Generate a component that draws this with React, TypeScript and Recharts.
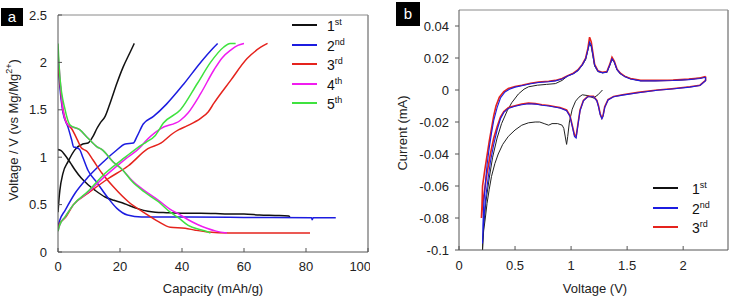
import React from 'react';
import { LineChart, Line, XAxis, YAxis, ReferenceLine } from 'recharts';

type P = [number, number];

// ---------- Panel a: galvanostatic curves (capacity mAh/g, voltage V) ----------
const dis1: P[] = [[0,1.08],[1,1.07],[2.3,1.02],[4,0.94],[5.5,0.865],[7.5,0.78],[9.7,0.71],[12,0.65],[15.2,0.58],[18,0.545],[20.7,0.52],[23,0.49],[26,0.455],[29,0.43],[31.4,0.42],[35,0.415],[40,0.41],[46,0.41],[50.8,0.405],[55,0.4],[60,0.4],[65,0.39],[70,0.385],[74.4,0.38],[74.8,0.37]];
const chg1: P[] = [[0,0.42],[0.3,0.55],[0.6,0.65],[1.6,0.83],[3.2,0.95],[5.5,1.08],[8,1.14],[9.7,1.15],[11.3,1.22],[12.5,1.3],[13.6,1.36],[15.2,1.43],[16.8,1.57],[19,1.78],[21,1.95],[23.3,2.11],[24.6,2.2]];
const dis2: P[] = [[0,2.0],[0.6,1.74],[1.6,1.47],[3.2,1.32],[4.5,1.17],[5,1.11],[6,1.1],[7,1.08],[8,1.0],[9.7,0.86],[12.6,0.73],[15.9,0.58],[19,0.46],[22.4,0.39],[27,0.37],[40,0.37],[60,0.365],[81.8,0.36],[82,0.34],[82.3,0.36],[89.6,0.36]];
const chg2: P[] = [[0,0.27],[0.5,0.33],[2.3,0.44],[5.5,0.62],[9.7,0.79],[14.6,0.95],[18.4,1.06],[21.7,1.14],[24.3,1.15],[25.5,1.22],[27.5,1.35],[30.8,1.43],[35,1.56],[40.5,1.77],[46,2.0],[50,2.15],[51.5,2.2]];
const dis3: P[] = [[0,1.95],[0.6,1.8],[1.2,1.6],[2.8,1.36],[4.4,1.3],[6.3,1.18],[7.5,1.1],[9.4,1.06],[11.3,0.97],[14.2,0.83],[17.8,0.69],[22.7,0.53],[28,0.41],[32.4,0.32],[36.2,0.26],[41,0.25],[44.3,0.23],[48.5,0.21],[55,0.2],[81.3,0.2]];
const chg3: P[] = [[0,0.25],[0.5,0.3],[2.3,0.36],[5,0.5],[9.7,0.62],[16,0.77],[22.7,0.91],[29,1.09],[33.3,1.15],[37,1.25],[39,1.29],[41.6,1.33],[46,1.41],[48.5,1.48],[50.3,1.57],[55.7,1.81],[61,2.04],[65.4,2.16],[67.6,2.2]];
const dis4: P[] = [[0,2.1],[0.6,1.85],[1.6,1.5],[3.2,1.34],[7,1.29],[9.7,1.2],[12.6,1.11],[14.2,1.08],[17.8,0.95],[20.7,0.87],[24,0.75],[28,0.645],[32.4,0.545],[36.2,0.45],[39,0.4],[42,0.34],[45,0.29],[48,0.25],[51,0.22],[54.5,0.2]];
const chg4: P[] = [[0,0.22],[0.5,0.28],[2.3,0.37],[5,0.5],[9.7,0.63],[15.2,0.8],[21.7,0.98],[27,1.12],[28,1.16],[33,1.3],[39.5,1.39],[42,1.47],[46,1.67],[50.3,1.92],[53,2.05],[55.7,2.13],[58,2.18],[60,2.2]];
const dis5: P[] = [[0,2.2],[0.6,1.85],[2.3,1.5],[3.9,1.34],[7,1.29],[9.7,1.2],[12.6,1.11],[14.2,1.08],[17.8,0.95],[20.7,0.87],[24,0.74],[28,0.63],[32.4,0.53],[36.2,0.42],[38.9,0.36],[42,0.28],[46.6,0.23],[48.5,0.21],[49.2,0.2]];
const chg5: P[] = [[0,0.22],[0.5,0.28],[2.3,0.37],[5,0.5],[9.7,0.64],[15.2,0.83],[21.7,1.0],[27,1.13],[28.5,1.16],[31.4,1.23],[34,1.36],[39.5,1.5],[45,1.78],[49.2,2.0],[53.4,2.16],[55.5,2.2],[57.3,2.2]];

const capTicks = [0, 20, 40, 60, 80, 100];
const voltTicks = [0, 0.5, 1, 1.5, 2, 2.5];

// ---------- Panel b: cyclic voltammograms (voltage V, current mA) ----------
const cv1: P[] = [[1.28,0.0],[1.24,-0.003],[1.2,-0.005],[1.15,-0.0035],[1.1,-0.003],[1.07,-0.0045],[1.04,-0.007],[1.01,-0.012],[0.985,-0.02],[0.97,-0.029],[0.96,-0.034],[0.95,-0.03],[0.935,-0.024],[0.92,-0.022],[0.88,-0.021],[0.83,-0.021],[0.8,-0.022],[0.76,-0.021],[0.72,-0.02],[0.68,-0.02],[0.62,-0.0205],[0.56,-0.022],[0.5,-0.025],[0.44,-0.029],[0.39,-0.034],[0.35,-0.04],[0.32,-0.046],[0.29,-0.054],[0.27,-0.062],[0.25,-0.071],[0.235,-0.08],[0.22,-0.088],[0.212,-0.095],[0.21,-0.1],[0.22,-0.085],[0.24,-0.07],[0.27,-0.055],[0.3,-0.042],[0.34,-0.03],[0.38,-0.021],[0.43,-0.013],[0.47,-0.008],[0.53,-0.0025],[0.58,0.0005],[0.62,0.002],[0.7,0.003],[0.78,0.0035],[0.86,0.004],[0.92,0.006],[0.97,0.0088],[1.02,0.0103],[1.06,0.012],[1.1,0.0155],[1.13,0.019],[1.15,0.025],[1.165,0.029],[1.18,0.027],[1.195,0.021],[1.21,0.015],[1.24,0.0115],[1.28,0.0108],[1.32,0.011],[1.345,0.0155],[1.365,0.019],[1.385,0.0175],[1.41,0.0125],[1.44,0.01],[1.53,0.007],[1.62,0.0058],[1.75,0.0058],[1.91,0.006],[2.05,0.0066],[2.2,0.008]];
const cv3: P[] = [[2.2,0.0085],[2.2,0.006],[2.15,0.003],[2.06,0.002],[1.9,0.0008],[1.77,0.0],[1.6,-0.0015],[1.46,-0.003],[1.38,-0.004],[1.33,-0.006],[1.3,-0.0105],[1.285,-0.016],[1.275,-0.0175],[1.26,-0.015],[1.245,-0.01],[1.23,-0.0065],[1.2,-0.004],[1.15,-0.004],[1.11,-0.0065],[1.08,-0.0125],[1.06,-0.022],[1.045,-0.029],[1.03,-0.028],[1.01,-0.022],[0.99,-0.016],[0.96,-0.0125],[0.9,-0.011],[0.86,-0.0105],[0.8,-0.0097],[0.74,-0.0092],[0.68,-0.0085],[0.62,-0.0082],[0.56,-0.0088],[0.5,-0.0098],[0.44,-0.011],[0.4,-0.0135],[0.37,-0.017],[0.34,-0.023],[0.31,-0.03],[0.28,-0.04],[0.25,-0.052],[0.23,-0.062],[0.21,-0.072],[0.2,-0.08],[0.205,-0.072],[0.21,-0.06],[0.23,-0.05],[0.25,-0.041],[0.27,-0.032],[0.29,-0.024],[0.31,-0.016],[0.33,-0.01],[0.36,-0.0045],[0.4,-0.001],[0.44,0.001],[0.5,0.0022],[0.56,0.003],[0.64,0.0042],[0.71,0.005],[0.8,0.0055],[0.86,0.006],[0.92,0.0072],[0.97,0.009],[1.02,0.0105],[1.06,0.0125],[1.1,0.016],[1.13,0.02],[1.15,0.026],[1.165,0.033],[1.18,0.03],[1.195,0.023],[1.21,0.016],[1.24,0.012],[1.28,0.011],[1.32,0.0115],[1.345,0.016],[1.365,0.0205],[1.385,0.018],[1.41,0.013],[1.44,0.0105],[1.48,0.0085],[1.53,0.0072],[1.62,0.006],[1.75,0.006],[1.91,0.0062],[2.05,0.0068],[2.15,0.0075],[2.2,0.0085]];
const cv2: P[] = [[2.2,0.008],[2.2,0.0058],[2.15,0.0028],[2.06,0.0018],[1.9,0.0006],[1.77,-0.0002],[1.6,-0.0017],[1.46,-0.0032],[1.38,-0.0042],[1.33,-0.0062],[1.3,-0.011],[1.285,-0.0165],[1.275,-0.018],[1.26,-0.0155],[1.245,-0.0105],[1.23,-0.0068],[1.2,-0.0042],[1.15,-0.0042],[1.11,-0.0068],[1.08,-0.013],[1.06,-0.0225],[1.045,-0.03],[1.03,-0.029],[1.01,-0.0225],[0.99,-0.0165],[0.96,-0.013],[0.9,-0.0113],[0.86,-0.0108],[0.8,-0.01],[0.74,-0.0095],[0.68,-0.0088],[0.62,-0.0086],[0.56,-0.0092],[0.5,-0.0102],[0.44,-0.0115],[0.4,-0.014],[0.37,-0.018],[0.34,-0.025],[0.31,-0.034],[0.28,-0.045],[0.26,-0.055],[0.24,-0.066],[0.225,-0.078],[0.215,-0.088],[0.21,-0.096],[0.213,-0.085],[0.22,-0.072],[0.235,-0.058],[0.25,-0.047],[0.27,-0.036],[0.29,-0.027],[0.31,-0.019],[0.34,-0.011],[0.37,-0.005],[0.41,-0.0012],[0.45,0.0005],[0.5,0.0018],[0.56,0.0027],[0.64,0.0039],[0.71,0.0047],[0.8,0.0052],[0.86,0.0057],[0.92,0.0069],[0.97,0.0087],[1.02,0.0102],[1.06,0.0122],[1.1,0.0157],[1.13,0.0195],[1.15,0.025],[1.165,0.03],[1.18,0.028],[1.195,0.022],[1.21,0.0155],[1.24,0.0117],[1.28,0.0107],[1.32,0.0112],[1.345,0.0155],[1.365,0.0195],[1.385,0.0175],[1.41,0.0127],[1.44,0.0102],[1.48,0.0082],[1.53,0.0069],[1.62,0.0057],[1.75,0.0057],[1.91,0.0059],[2.05,0.0065],[2.15,0.0072],[2.2,0.008]];

const cvVoltTicks = [0, 0.5, 1, 1.5, 2];
const currentTicks = [-0.1, -0.08, -0.06, -0.04, -0.02, 0, 0.02, 0.04];

const legendA = [
  { n: '1', s: 'st', c: '#111111' },
  { n: '2', s: 'nd', c: '#1c1ce0' },
  { n: '3', s: 'rd', c: '#e5231d' },
  { n: '4', s: 'th', c: '#f01cf0' },
  { n: '5', s: 'th', c: '#3fe23f' },
];
const legendB = [
  { n: '1', s: 'st', c: '#111111' },
  { n: '2', s: 'nd', c: '#1c1ce0' },
  { n: '3', s: 'rd', c: '#e5231d' },
];

const FONT = '"Liberation Sans", Arial, Helvetica, sans-serif';
const toData = (pts: P[]) => pts.map(([x, y]) => ({ x, y }));
const tickStyle = { fill: '#222', fontSize: 13, fontFamily: FONT };

const seriesA: { pts: P[]; c: string }[] = [
  { pts: dis1, c: legendA[0].c }, { pts: chg1, c: legendA[0].c },
  { pts: dis2, c: legendA[1].c }, { pts: chg2, c: legendA[1].c },
  { pts: dis3, c: legendA[2].c }, { pts: chg3, c: legendA[2].c },
  { pts: dis4, c: legendA[3].c }, { pts: chg4, c: legendA[3].c },
  { pts: dis5, c: legendA[4].c }, { pts: chg5, c: legendA[4].c },
];

const fmtCur = (v: number) => String(Number(v.toFixed(2)));

function LegendBox({ items, left, top, gap, textLeft }: { items: typeof legendA; left: number; top: number; gap: number; textLeft: number }) {
  return (
    <>
      {items.map((it, i) => (
        <React.Fragment key={i}>
          <div style={{ position: 'absolute', left, top: top + i * gap - 1, width: 25, height: 2, background: it.c }} />
          <div style={{ position: 'absolute', left: textLeft, top: top + i * gap - 7, fontSize: 14, lineHeight: '16px', fontFamily: FONT, color: '#111', whiteSpace: 'nowrap' }}>
            {it.n}<sup style={{ fontSize: 9, lineHeight: 0, verticalAlign: 'super' }}>{it.s}</sup>
          </div>
        </React.Fragment>
      ))}
    </>
  );
}

export default function App() {
  return (
    <div style={{ position: 'absolute', left: 0, top: 0, width: 729, height: 297, background: '#fff', overflow: 'hidden' }}>
      <div style={{ position: 'absolute', left: 0, top: 0 }}>
        <LineChart width={370} height={297} margin={{ top: 15, right: 2, bottom: 15, left: 0 }}>
          <XAxis
            dataKey="x" type="number" domain={[0, 100]} ticks={capTicks} allowDataOverflow
            tick={tickStyle} tickSize={-4} tickMargin={14} height={30}
            axisLine={{ stroke: '#555' }} tickLine={{ stroke: '#555' }}
            label={{ content: () => <text x={213} y={293} textAnchor="middle" fontSize={13} fontFamily={FONT} fill="#222">Capacity (mAh/g)</text> }}
          />
          <YAxis
            dataKey="y" type="number" domain={[0, 2.5]} ticks={voltTicks} allowDataOverflow
            tick={tickStyle} tickSize={-4} tickMargin={15} width={58}
            axisLine={{ stroke: '#555' }} tickLine={{ stroke: '#555' }}
            label={{ content: () => (
              <text transform="translate(18,130) rotate(-90)" x={0} y={0} textAnchor="middle" fontSize={13} fontFamily={FONT} fill="#222">
                Voltage / V (vs Mg/Mg<tspan dy={-6} fontSize={9}>2+</tspan><tspan dy={6}>)</tspan>
              </text>
            ) }}
          />
          <ReferenceLine y={2.5} stroke="#8a8a8a" strokeWidth={1} />
          <ReferenceLine x={100} stroke="#8a8a8a" strokeWidth={1.5} />
          {seriesA.map((s, i) => (
            <Line key={i} data={toData(s.pts)} dataKey="y" type="monotone" stroke={s.c} strokeWidth={1.5} dot={false} activeDot={false} isAnimationActive={false} />
          ))}
        </LineChart>
      </div>
      <div style={{ position: 'absolute', left: 370, top: 0 }}>
        <LineChart width={359} height={297} margin={{ top: 10, right: 1, bottom: 17, left: 0 }}>
          <XAxis
            dataKey="x" type="number" domain={[0, 2.4]} ticks={cvVoltTicks} allowDataOverflow
            tick={tickStyle} tickSize={-4} tickMargin={15} height={30}
            axisLine={{ stroke: '#555' }} tickLine={{ stroke: '#555' }}
            label={{ content: () => <text x={225} y={293} textAnchor="middle" fontSize={13} fontFamily={FONT} fill="#222">Voltage (V)</text> }}
          />
          <YAxis
            dataKey="y" type="number" domain={[-0.1, 0.05]} ticks={currentTicks} allowDataOverflow
            tick={tickStyle} tickFormatter={fmtCur} tickSize={4} tickMargin={6} width={89}
            axisLine={{ stroke: '#555' }} tickLine={{ stroke: '#555' }}
            label={{ content: () => (
              <text transform="translate(37,133) rotate(-90)" x={0} y={0} textAnchor="middle" fontSize={13} fontFamily={FONT} fill="#222">Current (mA)</text>
            ) }}
          />
          <ReferenceLine y={0.05} stroke="#8a8a8a" strokeWidth={1} />
          <ReferenceLine x={2.4} stroke="#8a8a8a" strokeWidth={1.5} />
          <Line data={toData(cv1)} dataKey="y" type="linear" stroke="#222" strokeWidth={1} dot={false} activeDot={false} isAnimationActive={false} />
          <Line data={toData(cv3)} dataKey="y" type="linear" stroke={legendB[2].c} strokeWidth={1.6} dot={false} activeDot={false} isAnimationActive={false} />
          <Line data={toData(cv2)} dataKey="y" type="linear" stroke={legendB[1].c} strokeWidth={1.1} dot={false} activeDot={false} isAnimationActive={false} />
        </LineChart>
      </div>
      <div style={{ position: 'absolute', left: 1, top: 8, width: 22, height: 18, background: '#000', color: '#fff', fontFamily: FONT, fontSize: 15, lineHeight: '18px', textAlign: 'center' }}>a</div>
      <div style={{ position: 'absolute', left: 396, top: 2, width: 24, height: 24, background: '#000', color: '#fff', fontFamily: FONT, fontSize: 15, lineHeight: '23px', textAlign: 'center' }}>b</div>
      <LegendBox items={legendA} left={292} top={25} gap={19.5} textLeft={327} />
      <LegendBox items={legendB} left={653} top={188} gap={19.5} textLeft={692} />
    </div>
  );
}
